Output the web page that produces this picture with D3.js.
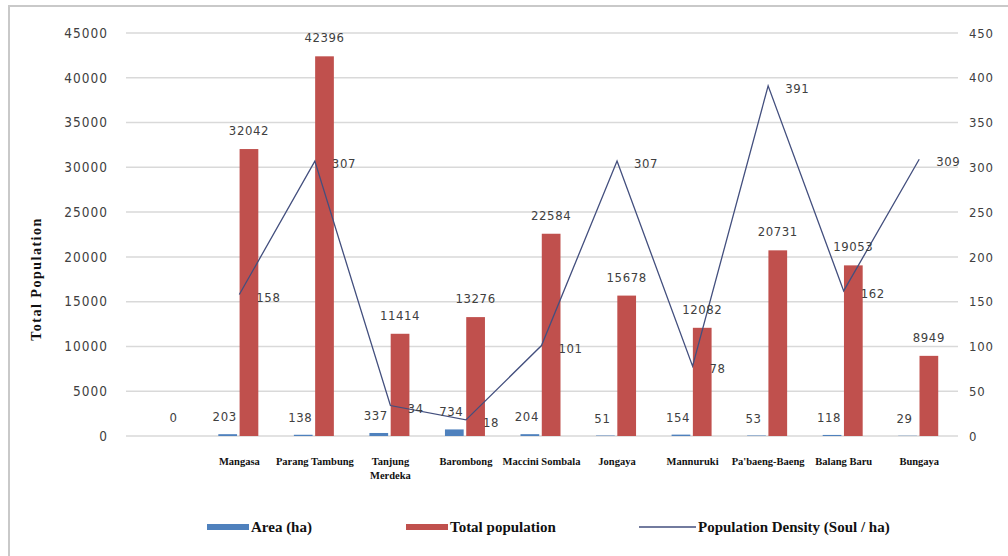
<!DOCTYPE html>
<html>
<head>
<meta charset="utf-8">
<script src="https://cdn.jsdelivr.net/npm/d3@7"></script>
<style>
  body { margin: 0; background: #fff; }
  svg { display: block; }
  .num { font-family: "DejaVu Sans Condensed", "DejaVu Sans", sans-serif; font-stretch: condensed; fill: #404040; }
  .cat { font-family: "Liberation Serif", serif; font-weight: bold; font-size: 10.5px; fill: #111; }
</style>
</head>
<body>
<svg id="chart"></svg>
<script>
// data
const categories = ["", "Mangasa", "Parang Tambung", "Tanjung Merdeka", "Barombong", "Maccini Sombala",
    "Jongaya", "Mannuruki", "Pa'baeng-Baeng", "Balang Baru", "Bungaya"];
const area = [null, 203, 138, 337, 734, 204, 51, 154, 53, 118, 29];
const population = [0, 32042, 42396, 11414, 13276, 22584, 15678, 12082, 20731, 19053, 8949];
const density = [null, 158, 307, 34, 18, 101, 307, 78, 391, 162, 309];
const leftTicks = [0, 5000, 10000, 15000, 20000, 25000, 30000, 35000, 40000, 45000];
const rightTicks = [0, 50, 100, 150, 200, 250, 300, 350, 400, 450];
const wrapped = ["Tanjung Merdeka"];

const width = 1008, height = 556;
const margin = {top: 33, right: 51, bottom: 120, left: 126};

const svg = d3.select("#chart").attr("width", width).attr("height", height);

// outer frame
svg.append("rect")
    .attr("x", 9).attr("y", 6)
    .attr("width", 1100).attr("height", 700)
    .attr("fill", "none").attr("stroke", "#c9c9c9").attr("stroke-width", 2);

const x = d3.scaleBand().domain(categories).range([margin.left, width - margin.right]);
const bw = x.bandwidth();
const x1 = d3.scaleBand().domain(["area", "pop"]).range([bw / 2 - 21, bw / 2 + 19]).paddingInner(0.12);
const yL = d3.scaleLinear().domain([0, 45000]).range([height - margin.bottom, margin.top]);
const yR = d3.scaleLinear().domain([0, 450]).range([height - margin.bottom, margin.top]);

// gridlines
svg.append("g").selectAll("line")
    .data(leftTicks)
    .join("line")
    .attr("x1", margin.left).attr("x2", width - margin.right + 1)
    .attr("y1", d => yL(d)).attr("y2", d => yL(d))
    .attr("stroke", "#d9d9d9").attr("stroke-width", 1.5);

// left axis
const axL = svg.append("g")
    .attr("transform", `translate(${margin.left - 18},0)`)
    .call(d3.axisLeft(yL).tickValues(leftTicks).tickFormat(d3.format("d")).tickSize(0).tickPadding(0));
axL.select(".domain").remove();
axL.selectAll("text").attr("class", "num").style("font-size", "13.5px").style("letter-spacing", "1px");

// right axis
const axR = svg.append("g")
    .attr("transform", `translate(${width - margin.right + 12},0)`)
    .call(d3.axisRight(yR).tickValues(rightTicks).tickSize(0).tickPadding(0));
axR.select(".domain").remove();
axR.selectAll("text").attr("class", "num").style("font-size", "13px").style("letter-spacing", "0.8px");

// category axis
const axB = svg.append("g")
    .attr("transform", `translate(0,${height - margin.bottom})`)
    .call(d3.axisBottom(x).tickSize(0).tickPadding(22));
axB.select(".domain").remove();
axB.selectAll("text").attr("class", "cat").each(function(d) {
    if (!wrapped.includes(d)) return;
    const t = d3.select(this);
    const words = d.split(" ");
    t.text(null);
    words.forEach((w, i) => {
        t.append("tspan").attr("x", 0).attr("dy", i === 0 ? "0.71em" : "1.3em").text(w);
    });
    t.attr("dy", null);
});

const rows = categories.map((c, i) => ({c, area: area[i], pop: population[i], dens: density[i]}));

// bars
const g = svg.append("g");
g.selectAll(".bar-area")
    .data(rows.filter(d => d.area != null))
    .join("rect")
    .attr("x", d => x(d.c) + x1("area"))
    .attr("width", x1.bandwidth())
    .attr("y", d => yL(d.area))
    .attr("height", d => yL(0) - yL(d.area))
    .attr("fill", "#4f81bd");

g.selectAll(".bar-pop")
    .data(rows)
    .join("rect")
    .attr("x", d => x(d.c) + x1("pop"))
    .attr("width", x1.bandwidth())
    .attr("y", d => yL(d.pop))
    .attr("height", d => yL(0) - yL(d.pop))
    .attr("fill", "#c0504d");

// density line
const pts = rows.filter(d => d.dens != null);
svg.append("path")
    .datum(pts)
    .attr("d", d3.line().x(d => x(d.c) + bw / 2).y(d => yR(d.dens)))
    .attr("fill", "none")
    .attr("stroke", "#434f7e")
    .attr("stroke-width", 1.3);

// labels
const lab = svg.append("g").attr("class", "num").style("font-size", "13px").style("letter-spacing", "0.6px");
lab.selectAll(".la")
    .data(rows.filter(d => d.area != null))
    .join("text")
    .attr("x", d => x(d.c) + x1("area") + x1.bandwidth() / 2 - 3)
    .attr("y", d => yL(d.area) - 13)
    .attr("text-anchor", "middle")
    .text(d => d.area);

lab.selectAll(".lp")
    .data(rows)
    .join("text")
    .attr("x", d => x(d.c) + x1("pop") + x1.bandwidth() / 2)
    .attr("y", d => yL(d.pop) - 14)
    .attr("text-anchor", "middle")
    .text(d => d.pop);

lab.selectAll(".ld")
    .data(pts)
    .join("text")
    .attr("x", d => x(d.c) + bw / 2 + 17)
    .attr("y", d => yR(d.dens) + 7)
    .text(d => d.dens);

// y title
svg.append("text")
    .attr("transform", "translate(41,279) rotate(-90)")
    .attr("text-anchor", "middle")
    .style("font-family", "Liberation Serif, serif")
    .style("font-weight", "bold")
    .style("font-size", "14px")
    .style("letter-spacing", "1.5px")
    .attr("fill", "#111")
    .text("Total Population");

// legend
const legend = [
    {name: "Area (ha)", type: "rect", color: "#4f81bd", x: 207},
    {name: "Total population", type: "rect", color: "#c0504d", x: 406},
    {name: "Population Density (Soul / ha)", type: "line", color: "#434f7e", x: 639}
];
const lg = svg.append("g").attr("transform", "translate(0,527)");
legend.forEach(l => {
    if (l.type === "rect") {
        lg.append("rect").attr("x", l.x).attr("y", -3).attr("width", 42).attr("height", 6).attr("fill", l.color);
    } else {
        lg.append("line").attr("x1", l.x).attr("x2", l.x + 57).attr("y1", 0).attr("y2", 0)
            .attr("stroke", l.color).attr("stroke-width", 1.3);
    }
    lg.append("text")
        .attr("x", l.type === "rect" ? l.x + 44 : l.x + 59).attr("y", 5)
        .style("font-family", "Liberation Serif, serif")
        .style("font-weight", "bold")
        .style("font-size", "15px")
        .attr("fill", "#111")
        .text(l.name);
});
</script>
</body>
</html>
